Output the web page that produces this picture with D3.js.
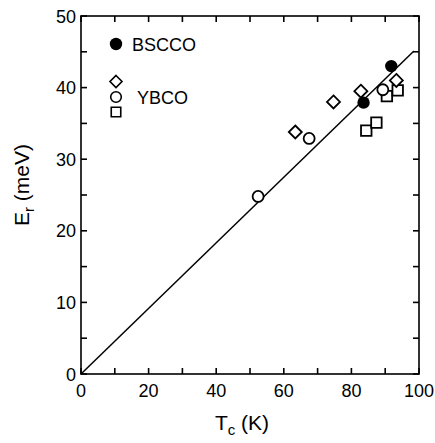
<!DOCTYPE html>
<html>
<head>
<meta charset="utf-8">
<script src="https://cdn.jsdelivr.net/npm/d3@7"></script>
<style>
  html, body { margin: 0; padding: 0; background: #fff; }
  svg { display: block; font-family: "Liberation Sans", Arial, Helvetica, sans-serif; }
</style>
</head>
<body>
<svg id="chart" width="435" height="443"></svg>
<script>
// Resonance energy versus critical temperature
const xTicks = [0, 20, 40, 60, 80, 100];
const yTicks = [0, 10, 20, 30, 40, 50];

const bsccoTc = [83.6, 91.8];
const bsccoEr = [37.9, 43.0];

const ybcoDiamondTc = [63.4, 74.7, 82.8, 93.3];
const ybcoDiamondEr = [33.8, 38.0, 39.5, 41.0];

const ybcoCircleTc = [52.4, 67.5, 89.3];
const ybcoCircleEr = [24.8, 32.9, 39.7];

const ybcoSquareTc = [84.4, 87.4, 90.5, 93.7];
const ybcoSquareEr = [34.0, 35.1, 38.8, 39.6];

// linear fit through the origin
const fitTc = [0, 98.5];
const fitEr = [0, 45.1];

(function () {
  const svg = d3.select("#chart");
  const pl = 81, pr = 419, pt = 16, pb = 374;

  const x = d3.scaleLinear().domain([0, 100]).range([pl, pr]);
  const y = d3.scaleLinear().domain([0, 50]).range([pb, pt]);

  const tickLen = 6;
  const lw = 1.6;

  // frame
  svg.append("rect")
    .attr("x", pl).attr("y", pt)
    .attr("width", pr - pl).attr("height", pb - pt)
    .attr("fill", "none").attr("stroke", "#000").attr("stroke-width", lw);

  // ticks (inward, on all four sides)
  const xAll = d3.range(0, 101, 10);
  const yAll = d3.range(0, 51, 5);
  const tg = svg.append("g").attr("stroke", "#000").attr("stroke-width", lw);
  xAll.forEach(v => {
    tg.append("line").attr("x1", x(v)).attr("x2", x(v)).attr("y1", pb).attr("y2", pb - tickLen);
    tg.append("line").attr("x1", x(v)).attr("x2", x(v)).attr("y1", pt).attr("y2", pt + tickLen);
  });
  yAll.forEach(v => {
    tg.append("line").attr("y1", y(v)).attr("y2", y(v)).attr("x1", pl).attr("x2", pl + tickLen);
    tg.append("line").attr("y1", y(v)).attr("y2", y(v)).attr("x1", pr).attr("x2", pr - tickLen);
  });

  // tick labels
  svg.append("g").selectAll("text").data(xTicks).join("text")
    .attr("x", d => x(d)).attr("y", pb + 23)
    .attr("text-anchor", "middle").attr("font-size", 18).text(d => d);
  svg.append("g").selectAll("text").data(yTicks).join("text")
    .attr("x", pl - 5).attr("y", d => y(d) + 6.5)
    .attr("text-anchor", "end").attr("font-size", 18).text(d => d);

  // axis titles
  const xt = svg.append("text").attr("x", 242).attr("y", 430)
    .attr("text-anchor", "middle").attr("font-size", 21);
  xt.append("tspan").text("T");
  xt.append("tspan").attr("font-size", 15).attr("dy", 5).text("c");
  xt.append("tspan").attr("dy", -5).text(" (K)");

  const yt = svg.append("text")
    .attr("transform", "translate(29,185) rotate(-90)")
    .attr("text-anchor", "middle").attr("font-size", 21);
  yt.append("tspan").text("E");
  yt.append("tspan").attr("font-size", 15).attr("dy", 5).text("r");
  yt.append("tspan").attr("dy", -5).text(" (meV)");

  // fit line
  svg.append("path")
    .datum(fitTc.map((t, i) => [t, fitEr[i]]))
    .attr("d", d3.line().x(d => x(d[0])).y(d => y(d[1])))
    .attr("fill", "none").attr("stroke", "#000").attr("stroke-width", 1.5);

  const pts = (a, b) => a.map((t, i) => [t, b[i]]);
  const sym = (type, size) => d3.symbol().type(type).size(size)();
  const diamond = "M0,-6.5L6.5,0L0,6.5L-6.5,0Z";

  // data markers
  const mk = svg.append("g");
  mk.selectAll(".sq").data(pts(ybcoSquareTc, ybcoSquareEr)).join("path")
    .attr("transform", d => `translate(${x(d[0])},${y(d[1])})`)
    .attr("d", sym(d3.symbolSquare, 110))
    .attr("fill", "#fff").attr("stroke", "#000").attr("stroke-width", 1.8);
  mk.selectAll(".ci").data(pts(ybcoCircleTc, ybcoCircleEr)).join("circle")
    .attr("cx", d => x(d[0])).attr("cy", d => y(d[1])).attr("r", 5.5)
    .attr("fill", "#fff").attr("stroke", "#000").attr("stroke-width", 1.8);
  mk.selectAll(".di").data(pts(ybcoDiamondTc, ybcoDiamondEr)).join("path")
    .attr("transform", d => `translate(${x(d[0])},${y(d[1])})`)
    .attr("d", diamond)
    .attr("fill", "#fff").attr("stroke", "#000").attr("stroke-width", 1.8);
  mk.selectAll(".bs").data(pts(bsccoTc, bsccoEr)).join("circle")
    .attr("cx", d => x(d[0])).attr("cy", d => y(d[1])).attr("r", 6.2)
    .attr("fill", "#000");

  // legend
  const lg = svg.append("g");
  lg.append("circle").attr("cx", 116).attr("cy", 44).attr("r", 6.2).attr("fill", "#000");
  lg.append("text").attr("x", 132).attr("y", 50.5).attr("font-size", 18).text("BSCCO");
  lg.append("path").attr("transform", "translate(116,81.5)")
    .attr("d", "M0,-6L6,0L0,6L-6,0Z")
    .attr("fill", "#fff").attr("stroke", "#000").attr("stroke-width", 1.6);
  lg.append("circle").attr("cx", 116).attr("cy", 97).attr("r", 5.3)
    .attr("fill", "#fff").attr("stroke", "#000").attr("stroke-width", 1.6);
  lg.append("path").attr("transform", "translate(116,112)")
    .attr("d", sym(d3.symbolSquare, 90))
    .attr("fill", "#fff").attr("stroke", "#000").attr("stroke-width", 1.6);
  lg.append("text").attr("x", 137).attr("y", 103.5).attr("font-size", 18).text("YBCO");
})();
</script>
</body>
</html>
